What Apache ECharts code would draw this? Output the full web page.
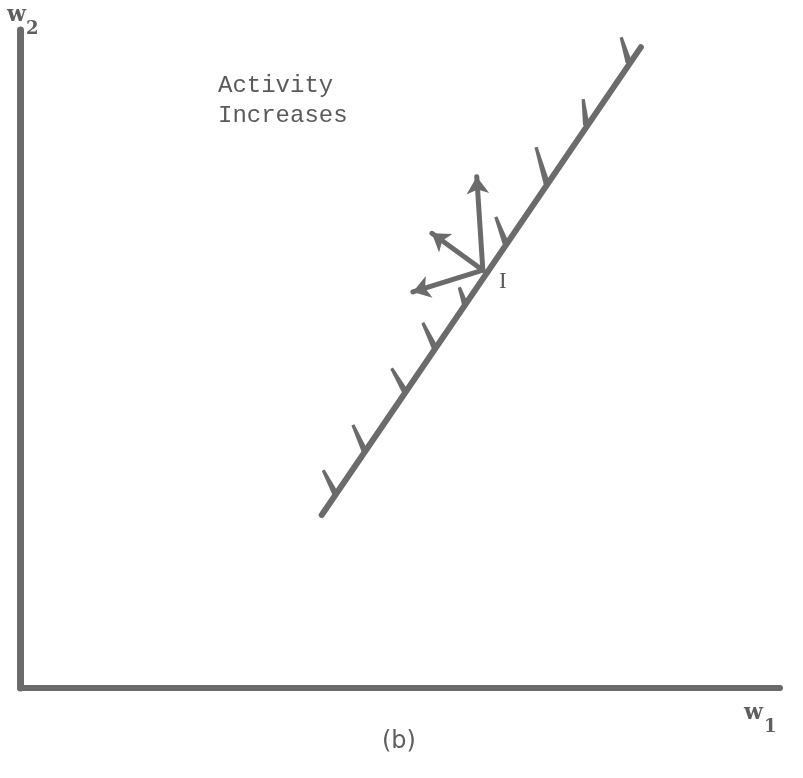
<!DOCTYPE html>
<html>
<head>
<meta charset="utf-8">
<script src="https://cdn.jsdelivr.net/npm/echarts@6/dist/echarts.min.js"></script>
<style>html,body{margin:0;padding:0;background:#fff;}#chart{width:803px;height:778px;}</style>
</head>
<body>
<div id="chart"></div>
<script>
// Boundary line (data units on w1 / w2 axes, 0..100)
const boundaryLine = [[39.7, 26.3], [81.7, 97.4]];
// Hatch marks: base on the line, tip on the "activity increases" side
const hatchBases = [[41.6, 29.3], [45.4, 35.9], [50.7, 45.0], [54.6, 51.7], [58.6, 58.2], [63.9, 67.6], [69.3, 76.7], [74.5, 85.6], [80.1, 95.1]];
const hatchTips  = [[39.9, 33.1], [43.8, 40.0], [48.9, 48.6], [53.0, 55.5], [57.8, 60.9], [62.6, 71.6], [67.9, 82.2], [74.1, 89.5], [79.1, 98.9]];
// Arrows from point I
const arrowOrigin = [60.9, 63.5];
const arrowTips = [[60.1, 77.7], [54.2, 69.1], [51.7, 60.2]];

const ink = '#6b6b6b';
const chart = echarts.init(document.getElementById('chart'));
const hatchData = hatchBases.map((b, i) => [b[0], b[1], hatchTips[i][0], hatchTips[i][1]]);
const arrowSegs = arrowTips.map(t => ({ coords: [arrowOrigin, t] }));

function renderWedge(params, api) {
  const b = api.coord([api.value(0), api.value(1)]);
  const t = api.coord([api.value(2), api.value(3)]);
  const dx = t[0] - b[0], dy = t[1] - b[1];
  const len = Math.sqrt(dx * dx + dy * dy) || 1;
  const nx = -dy / len, ny = dx / len;
  const wb = 3.2, wt = 1.6;
  return {
    type: 'polygon',
    shape: { points: [
      [b[0] + nx * wb, b[1] + ny * wb],
      [t[0] + nx * wt, t[1] + ny * wt],
      [t[0] - nx * wt, t[1] - ny * wt],
      [b[0] - nx * wb, b[1] - ny * wb]
    ] },
    style: { fill: ink }
  };
}

chart.setOption({
  animation: false,
  backgroundColor: '#fff',
  grid: { left: 20, right: 23, top: 30, bottom: 90 },
  xAxis: { type: 'value', min: 0, max: 100, axisLine: { show: true, lineStyle: { color: ink, width: 6 } },
           axisTick: { show: false }, axisLabel: { show: false }, splitLine: { show: false } },
  yAxis: { type: 'value', min: 0, max: 100, axisLine: { show: true, lineStyle: { color: ink, width: 7 } },
           axisTick: { show: false }, axisLabel: { show: false }, splitLine: { show: false } },
  series: [
    { type: 'lines', coordinateSystem: 'cartesian2d', symbol: 'none',
      lineStyle: { color: ink, width: 6, opacity: 1, cap: 'round' },
      data: [{ coords: boundaryLine }] },
    { type: 'custom', coordinateSystem: 'cartesian2d', renderItem: renderWedge,
      encode: { x: [0, 2], y: [1, 3] }, data: hatchData },
    { type: 'lines', coordinateSystem: 'cartesian2d', symbol: ['none', 'arrow'], symbolSize: [15, 17],
      lineStyle: { color: ink, width: 5, opacity: 1, cap: 'round' },
      itemStyle: { color: ink },
      data: arrowSegs }
  ],
  graphic: [
    { type: 'text', left: 218, top: 74, style: { text: 'Activity', font: '24px "Liberation Mono"', fill: '#5a5a5a' } },
    { type: 'text', left: 218, top: 104, style: { text: 'Increases', font: '24px "Liberation Mono"', fill: '#5a5a5a' } },
    { type: 'text', left: 499, top: 270, style: { text: 'I', font: '23px "Liberation Serif"', fill: '#5a5a5a' } },
    { type: 'text', left: 7, top: 4, style: { text: 'w', font: 'bold 22px "DejaVu Serif"', fill: '#5e5e5e' } },
    { type: 'text', left: 26, top: 20, style: { text: '2', font: 'bold 18px "DejaVu Serif"', fill: '#5e5e5e' } },
    { type: 'text', left: 744, top: 702, style: { text: 'w', font: 'bold 22px "DejaVu Serif"', fill: '#5e5e5e' } },
    { type: 'text', left: 764, top: 718, style: { text: '1', font: 'bold 18px "DejaVu Serif"', fill: '#5e5e5e' } },
    { type: 'text', left: 382, top: 730, style: { text: '(b)', font: '24px "DejaVu Sans"', fill: '#5e5e5e' } }
  ]
});
</script>
</body>
</html>
